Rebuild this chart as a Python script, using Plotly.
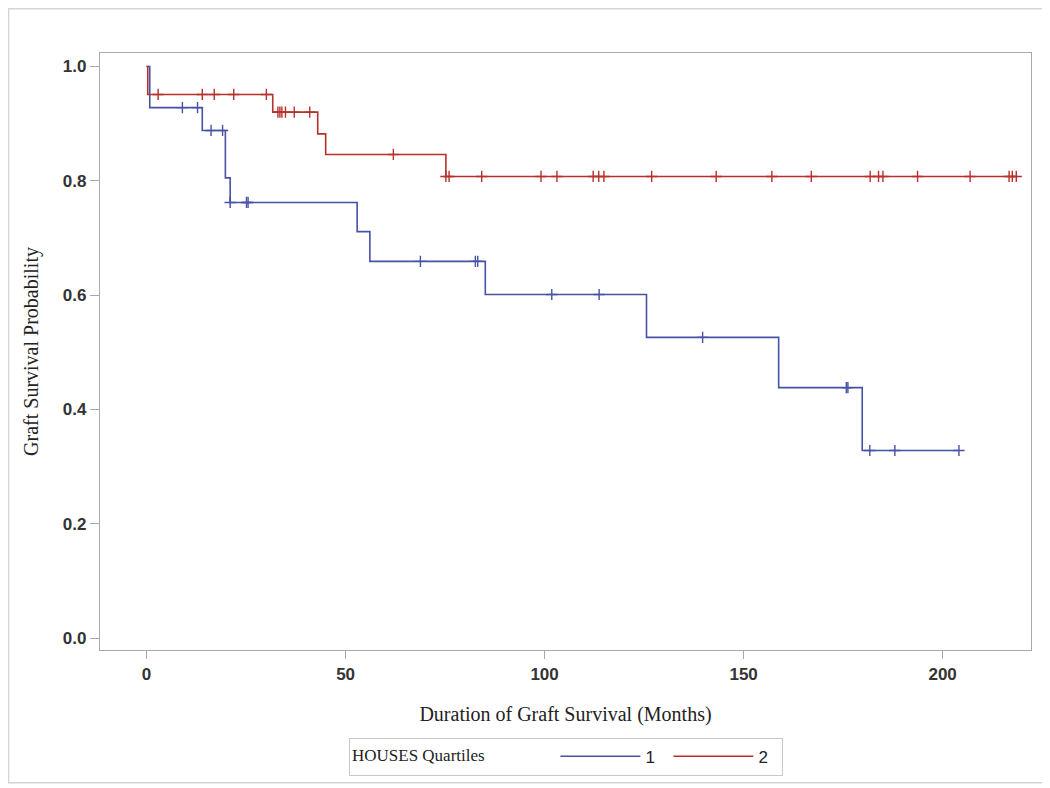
import plotly.graph_objects as go
import bisect

# ---- data ----
group_names = ["1", "2"]

# Group 1 (blue): step times and survival levels
times1 = [0, 0.8, 14.0, 19.8, 21.0, 52.9, 56.1, 85.1, 125.6, 158.8, 179.8]
surv1 = [1.0, 0.928, 0.888, 0.805, 0.762, 0.711, 0.659, 0.601, 0.526, 0.438, 0.328]
end1 = 204.1
censor1 = [9.0, 12.8, 16.2, 19.1, 21.0, 25.1, 25.5, 68.8, 82.6, 83.2, 101.8,
           113.7, 139.7, 175.8, 176.2, 181.7, 188.0, 204.1]

# Group 2 (red)
times2 = [0, 0.3, 31.7, 43.0, 45.0, 75.2]
surv2 = [1.0, 0.951, 0.920, 0.882, 0.846, 0.8075]
end2 = 218.5
censor2 = [2.9, 14.0, 17.0, 21.9, 30.1, 33.0, 33.5, 34.0, 34.9, 37.1, 41.0, 62.0,
           75.2, 76.0, 84.2, 99.1, 103.1, 112.2, 113.6, 114.9, 126.9, 143.1,
           157.1, 167.0, 181.8, 183.9, 185.0, 193.7, 206.9, 216.7, 217.5, 218.5]

x_ticks = [0, 50, 100, 150, 200]
y_ticks = [0.0, 0.2, 0.4, 0.6, 0.8, 1.0]

colors = ["#4652A4", "#B8302C"]


def step_value(times, surv, t):
    i = bisect.bisect_right(times, t) - 1
    return surv[max(i, 0)]


fig = go.Figure()

series = [(times1, surv1, end1, censor1), (times2, surv2, end2, censor2)]
for k, (tt, ss, ee, cc) in enumerate(series):
    xs = list(tt) + [ee]
    ys = list(ss) + [ss[-1]]
    fig.add_trace(go.Scatter(
        x=xs, y=ys, mode="lines", line=dict(shape="hv", color=colors[k], width=1.6),
        name=group_names[k], legendgroup=group_names[k], showlegend=True,
    ))
    fig.add_trace(go.Scatter(
        x=cc, y=[step_value(tt, ss, c) for c in cc], mode="markers",
        marker=dict(symbol="cross-thin", size=8, line=dict(color=colors[k], width=1.4),
                    color=colors[k]),
        name=group_names[k], legendgroup=group_names[k], showlegend=False,
    ))

axis_col = "#A4AAB0"
tickfont = dict(family="Liberation Sans", size=17, color="#333333", weight="bold")
titlefont = dict(family="Liberation Serif", size=20, color="#222222")

fig.update_xaxes(
    range=[-11.7, 222.2], tickvals=x_ticks, ticktext=[str(v) for v in x_ticks],
    showgrid=False, zeroline=False, showline=True, linecolor=axis_col, linewidth=1.3,
    mirror=True, ticks="outside", ticklen=8, tickcolor=axis_col, tickfont=tickfont,
    title=dict(text="Duration of Graft Survival (Months)", font=titlefont, standoff=24),
    automargin=False,
)
fig.update_yaxes(
    range=[-0.021, 1.0235], tickvals=y_ticks, tickformat=".1f",
    showgrid=False, zeroline=False, showline=True, linecolor=axis_col, linewidth=1.3,
    mirror=True, ticks="outside", ticklen=9, tickcolor=axis_col, tickfont=tickfont,
    title=dict(text="Graft Survival Probability", font=titlefont, standoff=18),
    automargin=False,
)

# outer light border around the whole image
fig.add_shape(type="rect", xref="paper", yref="paper",
              x0=-0.0983, x1=1.0177, y0=-0.2225, y1=1.0742,
              line=dict(color="#D4D4D4", width=1.5), fillcolor="rgba(0,0,0,0)")

fig.update_layout(
    width=1042, height=780,
    margin=dict(l=92, r=19, t=45, b=135),
    paper_bgcolor="white", plot_bgcolor="white",
    showlegend=True,
    legend=dict(
        orientation="h", x=0.5005, xanchor="center", y=-0.147, yanchor="top",
        bordercolor="#C8C8C8", borderwidth=1, bgcolor="white",
        title=dict(text="HOUSES Quartiles" + "\u00a0" * 15,
                   font=dict(family="Liberation Serif", size=17, color="#222222")),
        font=dict(family="Liberation Sans", size=17, color="#222222"),
        entrywidth=18, itemwidth=80,
    ),
)

fig.write_html("out.html")
